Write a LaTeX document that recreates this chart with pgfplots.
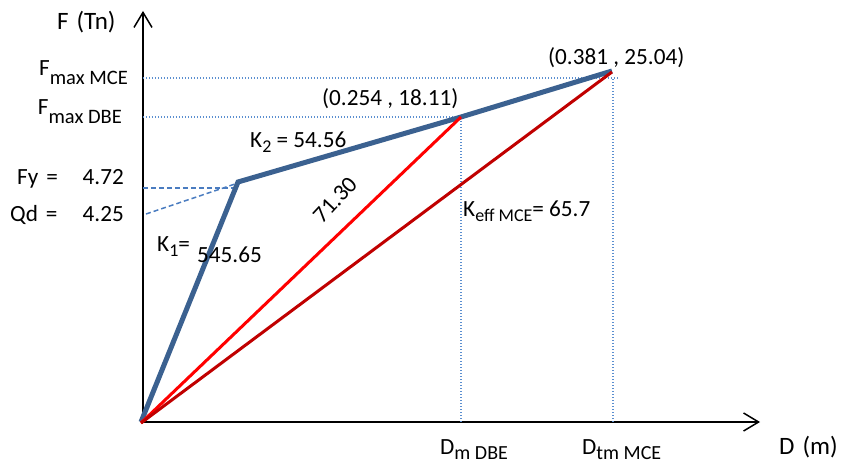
\documentclass[border=0pt]{standalone}
\usepackage{pgfplots}
\pgfplotsset{compat=1.18}
\usetikzlibrary{arrows.meta}
\usepackage{fontspec}
\setmainfont{Carlito}
\definecolor{kblue}{HTML}{3B6190}
\definecolor{dotblue}{HTML}{5B8FD0}
\definecolor{dashblue}{HTML}{4A7CC0}
\definecolor{dred}{HTML}{C00000}
\newcommand\sub[1]{\raisebox{-5pt}{\fontsize{18}{18}\selectfont #1}}
\newcommand\fsub[1]{\raisebox{-9pt}{\fontsize{20.5}{20}\selectfont #1}}
\newcommand\dsub[1]{\raisebox{-5pt}{\fontsize{20}{20}\selectfont #1}}
\tikzset{lab/.style={font=\fontsize{23.2}{25}\selectfont, inner sep=0pt},
         tit/.style={font=\fontsize{25}{27}\selectfont, inner sep=0pt}}
\begin{document}
\begin{tikzpicture}
\begin{axis}[
  scale only axis, width=617pt, height=411pt,
  xmin=0, xmax=617, ymin=0, ymax=411,
  axis lines=left, xtick=\empty, ytick=\empty,
  axis line style={line width=1.5pt, black, -{Straight Barb[length=15pt,width=18pt,line width=1.5pt]}},
  clip=false,
]
% invisible bounding box
\path (axis cs:-143,-46) rectangle (axis cs:703,422);
% dotted guide lines
\addplot[dotblue, line width=1.3pt, dash pattern=on 1.4pt off 1.6pt] coordinates {(0,344) (475,344)};
\addplot[dotblue, line width=1.3pt, dash pattern=on 1.4pt off 1.6pt] coordinates {(470,0) (470,344)};
\addplot[dotblue, line width=1.3pt, dash pattern=on 1.4pt off 1.6pt] coordinates {(0,305) (318,305)};
\addplot[dotblue, line width=1.3pt, dash pattern=on 1.4pt off 1.6pt] coordinates {(318,0) (318,305)};
% dashed lines
\addplot[dashblue, line width=1.5pt, dash pattern=on 5pt off 3pt] coordinates {(0,234) (95,234)};
\addplot[dashblue, line width=1.5pt, dash pattern=on 5pt off 3pt] coordinates {(3,208) (95,239)};
% bilinear curve
\addplot[kblue, line width=5pt, line join=miter] coordinates {(-2,0) (95,240) (318,305) (469,351)};
% secant lines
\addplot[red, line width=3pt] coordinates {(-2,-1) (318,305)};
\addplot[dred, line width=3pt] coordinates {(-2,-1) (469,350)};
% labels
\node[tit, anchor=base west] at (axis cs:-86,392) {F\hspace{8pt}(Tn)};
\node[lab, anchor=base east] at (axis cs:-15,346) {F\fsub{max MCE}};
\node[lab, anchor=base east] at (axis cs:-21,307) {F\fsub{max DBE}};
\node[lab, anchor=base west] at (axis cs:-126,237) {Fy\hspace{8pt}=};
\node[lab, anchor=base east] at (axis cs:-19,237) {4.72};
\node[lab, anchor=base west] at (axis cs:-133,200) {Qd\hspace{8pt}=};
\node[lab, anchor=base east] at (axis cs:-19,200) {4.25};
\node[lab, anchor=base west] at (axis cs:107,274) {K\sub{2} = 54.56};
\node[lab, anchor=base west] at (axis cs:14,170) {K\sub{1}=};
\node[lab, anchor=base west] at (axis cs:54,159) {545.65};
\node[lab, rotate=47] at (axis cs:192,222) {71.30};
\node[lab, anchor=base west] at (axis cs:320,205) {K\sub{eff MCE}= 65.7};
\node[lab, anchor=base west] at (axis cs:179,316) {(0.254 , 18.11)};
\node[lab, anchor=base west] at (axis cs:405,357) {(0.381 , 25.04)};
\node[lab, anchor=base west] at (axis cs:297,-33) {D\dsub{m DBE}};
\node[lab, anchor=base west] at (axis cs:439,-33) {D\dsub{tm MCE}};
\node[tit, anchor=base west] at (axis cs:636,-33) {D\hspace{8pt}(m)};
\end{axis}
\end{tikzpicture}
\end{document}
